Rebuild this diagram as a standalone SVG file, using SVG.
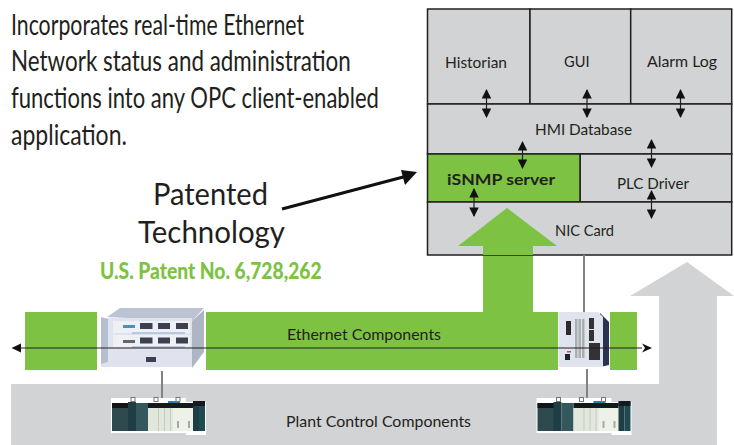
<svg xmlns="http://www.w3.org/2000/svg" width="734" height="445" viewBox="0 0 734 445">
<defs>
<style>
text{font-family:Lato,"Noto Sans","Liberation Sans",sans-serif;fill:#231f20}
.l{font-size:15px}
.h{font-size:28.700px}
.p{font-size:30px}
.cell{fill:#d1d3d4;stroke:#231f20;stroke-width:1.500}
.wire{stroke:#808285;stroke-width:2;fill:none}
.dbl{stroke:#231f20;stroke-width:1.200;fill:none;marker-start:url(#tip);marker-end:url(#tip)}
</style>
<marker id="tip" viewBox="0 0 10 10" refX="9" refY="5" markerWidth="9.500" markerHeight="9.500" markerUnits="userSpaceOnUse" orient="auto-start-reverse"><path d="M0 0L10 5L0 10Z" fill="#111"/></marker>
<g id="plc">
<rect x="0" y="0" width="75" height="35" fill="#fff"/>
<rect x="75" y="4" width="20" height="33" fill="#fff"/>
<rect x="1" y="5" width="17" height="28" fill="#2f4a4f"/>
<rect x="1" y="5" width="17" height="5" fill="#101416"/>
<rect x="17" y="4" width="8" height="29" fill="#1e3d44"/>
<rect x="25" y="5" width="12" height="28" fill="#33575c"/>
<rect x="37" y="5" width="45" height="28" fill="#e1e7da"/>
<rect x="37" y="5" width="45" height="5" fill="#14191b"/>
<rect x="47" y="10" width="1" height="23" fill="#c5cdbf"/><rect x="53" y="10" width="1" height="23" fill="#c5cdbf"/><rect x="59" y="10" width="1" height="23" fill="#c5cdbf"/>
<rect x="62" y="10" width="20" height="23" fill="#eef1e8"/>
<rect x="66" y="23" width="2" height="7" fill="#a5a99f"/><rect x="77" y="23" width="2" height="7" fill="#a5a99f"/>
<rect x="82" y="4" width="6" height="29" fill="#1e3d44"/>
<rect x="88" y="4" width="6" height="29" fill="#204a52"/>
<rect x="82" y="3" width="12" height="5" fill="#14191b"/>
<rect x="57" y="3" width="12" height="2" fill="#2a7fb0"/>
<rect x="20" y="-.5" width="4" height="4" fill="none" stroke="#777" stroke-width="1"/>
<rect x="43" y="-.5" width="4" height="4" fill="none" stroke="#777" stroke-width="1"/>
<rect x="65" y="-.5" width="4" height="4" fill="none" stroke="#777" stroke-width="1"/>
</g>
</defs>

<g id="plant-band"><path d="M11 384H659V296H630L687 262L734 296H717V445H11Z" fill="#d1d3d4"/>
<text class="l" x="286" y="427" textLength="185" lengthAdjust="spacingAndGlyphs">Plant Control Components</text></g>

<g id="ethernet-band"><path d="M206 312H483V246H458L507 208L557 246H533V312H558V370H206Z" fill="#7dc242"/>
<rect x="25" y="312" width="72" height="58" fill="#7dc242"/>
<rect x="610" y="312" width="27" height="58" fill="#7dc242"/></g>

<g id="stack">
<g id="historian"><rect class="cell" x="427.500" y="9" width="102.500" height="95"/><text class="l" x="445" y="68" textLength="62" lengthAdjust="spacingAndGlyphs">Historian</text></g>
<g id="gui"><rect class="cell" x="530" y="9" width="100.700" height="95"/><text class="l" x="564" y="67" textLength="25.500" lengthAdjust="spacingAndGlyphs">GUI</text></g>
<g id="alarm-log"><rect class="cell" x="630.700" y="9" width="101" height="95"/><text class="l" x="647" y="67" textLength="70" lengthAdjust="spacingAndGlyphs">Alarm Log</text></g>
<g id="hmi-database"><rect class="cell" x="427.500" y="104" width="304.200" height="50"/><text class="l" x="535" y="135" textLength="97" lengthAdjust="spacingAndGlyphs">HMI Database</text></g>
<g id="plc-driver"><rect class="cell" x="580" y="154" width="151.700" height="48"/><text class="l" x="617" y="189" textLength="72" lengthAdjust="spacingAndGlyphs">PLC Driver</text></g>
<g id="isnmp-server"><rect x="427.500" y="154" width="152.500" height="48" fill="#7dc242" stroke="#231f20" stroke-width="1.500"/><text x="447" y="185" font-weight="700" textLength="108" lengthAdjust="spacingAndGlyphs" style="font-size:16px">iSNMP server</text></g>
<g id="nic-card"><path d="M427.500 202H731.700V255H427.500Z" class="cell"/><path d="M507 208L557 246H533V255H483V246H458Z" fill="#7dc242"/><text class="l" x="555" y="236" textLength="59" lengthAdjust="spacingAndGlyphs">NIC Card</text></g>
</g>

<g id="connectors">
<path class="wire" d="M584 255V312"/>
<path class="wire" d="M162 371V398"/>
<path class="wire" d="M587 367V398"/>
<path class="dbl" d="M486.500 90V117"/>
<path class="dbl" d="M587 90V117"/>
<path class="dbl" d="M680.500 90V117"/>
<path class="dbl" d="M522.500 142V168"/>
<path class="dbl" d="M651.500 140V167"/>
<path class="dbl" d="M474 189V216"/>
<path class="dbl" d="M651.500 191V218"/>
<path d="M282 209L407 176" stroke="#111" stroke-width="3" fill="none"/>
<path d="M417 172L401 170L405 185Z" fill="#111"/>
</g>

<g id="chassis">
<rect x="100" y="308" width="104" height="60" fill="#fff"/>
<path d="M107 317L120 308H204L192 321Z" fill="#bcc3d2"/>
<rect x="101" y="318" width="91" height="49" fill="#dfe3ee"/>
<path d="M192 321L204 310V352L192 368Z" fill="#aeb6c6"/>
<path d="M101 317L108 319V362L101 364Z" fill="#b6bfd0"/>
<rect x="113" y="321" width="77" height="12" fill="#eef0f6"/>
<rect x="113" y="335" width="77" height="12" fill="#eef0f6"/>
<g fill="#3b4150"><rect x="140" y="323" width="12.500" height="6"/><rect x="158" y="323" width="12" height="6"/><rect x="176" y="323" width="12" height="6"/><rect x="140" y="337.500" width="12.500" height="6"/><rect x="158" y="337.500" width="12" height="6"/><rect x="176" y="337.500" width="12" height="6"/><rect x="146" y="357" width="10" height="5"/></g>
<rect x="123" y="325" width="12" height="3" fill="#4b8fc0"/>
<rect x="123" y="340" width="12" height="3" fill="#666"/>
<path d="M132 333H185M132 347H185" stroke="#8fa9d0" stroke-width="1"/>
</g>

<g id="switch">
<rect x="558" y="312" width="52" height="57" fill="#fff"/>
<path d="M600 313L609 322V365L600 367Z" fill="#2a3350"/>
<path d="M558.500 312H598L603 317V367H558.500Z" fill="#dfe4ef"/>
<rect x="566" y="321" width="5" height="14" fill="#2b2b2b"/>
<g fill="#a9aeae"><rect x="575" y="319" width="2.500" height="39"/><rect x="578.500" y="319" width="2.500" height="39"/><rect x="582" y="319" width="2.500" height="39"/></g>
<rect x="589" y="318" width="5" height="11" fill="#333"/>
<rect x="589" y="330" width="5" height="11" fill="#333"/>
<rect x="589" y="343" width="11" height="17" fill="#333"/>
<rect x="565" y="354" width="5" height="6" fill="#222"/>
<rect x="567" y="351" width="4" height="1.500" fill="#c0504d"/>
</g>

<g id="ethernet-bus">
<path d="M20 348H642" stroke="#231f20" stroke-width="1.200" fill="none"/>
<path d="M11.500 348L21 343.500V352.500Z" fill="#111"/>
<path d="M652 348L642 343.500L645 348L642 352.500Z" fill="#111"/>
<text class="l" x="287" y="340" textLength="154" lengthAdjust="spacingAndGlyphs">Ethernet Components</text>
</g>

<use href="#plc" x="111" y="398"/>
<use href="#plc" x="536.500" y="398"/>

<g id="caption">
<text class="h" transform="translate(11 35) scale(.72 1)" textLength="407" lengthAdjust="spacingAndGlyphs">Incorporates real-time Ethernet</text>
<text class="h" transform="translate(11 71) scale(.72 1)" textLength="472" lengthAdjust="spacingAndGlyphs">Network status and administration</text>
<text class="h" transform="translate(11 108) scale(.72 1)" textLength="511" lengthAdjust="spacingAndGlyphs">functions into any OPC client-enabled</text>
<text class="h" transform="translate(11 145) scale(.72 1)" textLength="161" lengthAdjust="spacingAndGlyphs">application.</text>
</g>
<g id="patent">
<text class="p" x="153" y="205" textLength="115" lengthAdjust="spacingAndGlyphs">Patented</text>
<text class="p" x="138" y="243" textLength="147" lengthAdjust="spacingAndGlyphs">Technology</text>
<text transform="translate(100 279) scale(.8 1)" font-weight="900" textLength="277" lengthAdjust="spacingAndGlyphs" style="font-size:22px;fill:#7dc242">U.S. Patent No. 6,728,262</text>
</g>
</svg>
